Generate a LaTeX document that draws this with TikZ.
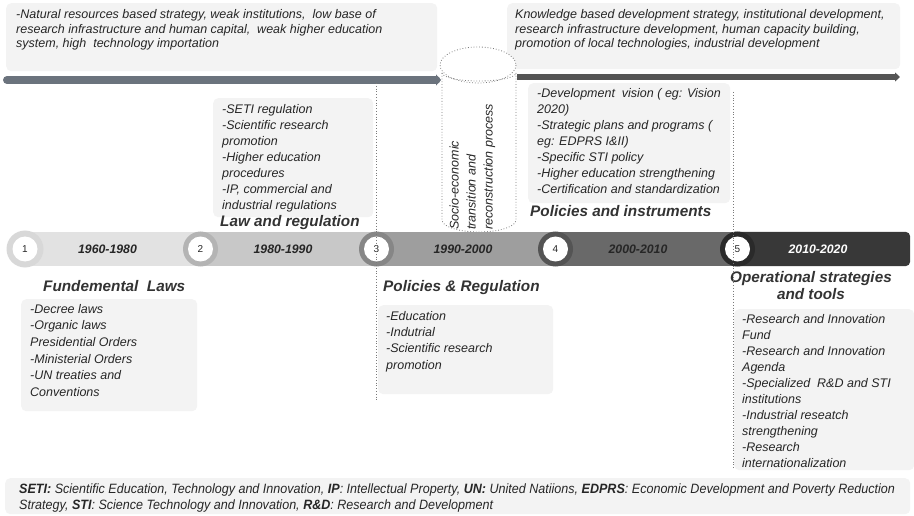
\documentclass[tikz,border=0pt]{standalone}
\usepackage{fontspec}
\setmainfont{Liberation Sans}
\newfontfamily\footfont[FakeStretch=0.93]{Liberation Sans}
\usetikzlibrary{arrows.meta}
\definecolor{panel}{HTML}{F3F3F3}
\definecolor{ink}{HTML}{262626}
\definecolor{head}{HTML}{333333}
\definecolor{guidegray}{HTML}{7A7A7A}
\definecolor{arrowA}{HTML}{6B737D}
\definecolor{arrowB}{HTML}{555555}
\definecolor{bodyA}{HTML}{E2E2E2}\definecolor{ringA}{HTML}{D8D8D8}
\definecolor{bodyB}{HTML}{C8C8C8}\definecolor{ringB}{HTML}{B4B4B4}
\definecolor{bodyC}{HTML}{9E9E9E}\definecolor{ringC}{HTML}{868686}
\definecolor{bodyD}{HTML}{696969}\definecolor{ringD}{HTML}{545454}
\definecolor{bodyE}{HTML}{383838}\definecolor{ringE}{HTML}{2A2A2A}
\begin{document}
\begin{tikzpicture}[x=1pt,y=-1pt,
  panelbox/.style={fill=panel,rounded corners=5,inner sep=0,anchor=north west,draw=none},
  bodytext/.style={anchor=north west,inner sep=0,align=left,text=ink,
    font=\itshape\fontsize{12.5}{16}\selectfont},
  heading/.style={anchor=base west,inner sep=0,text=head,
    font=\bfseries\itshape\fontsize{15.3}{17}\selectfont},
  guide/.style={draw=guidegray,dotted,line width=0.8},
  ringdot/.style={circle,inner sep=0,minimum size=35},
  numdot/.style={circle,fill=white,inner sep=0,minimum size=25,text=ink,
    font=\fontsize{10}{12}\selectfont},
  yearlabel/.style={inner sep=0,font=\bfseries\itshape\fontsize{12.3}{14}\selectfont}]
\useasboundingbox (0,0) rectangle (914,516);

% ---------- top panels and trend arrows ----------
\node[panelbox,minimum width=431,minimum height=68] (ctxold) at (6,3) {};
\node[bodytext,font=\itshape\fontsize{12.5}{14.5}\selectfont] (ctxoldtxt) at (16,8.4)
  {\strut-Natural resources based strategy, weak institutions,\ \ low base of\\
   research infrastructure and human capital,\ \ weak higher education\\
   system, high\ \ technology importation};
\node[panelbox,minimum width=393,minimum height=66] (ctxnew) at (507,3) {};
\node[bodytext,font=\itshape\fontsize{12.5}{14.5}\selectfont] (ctxnewtxt) at (515,8.4)
  {\strut Knowledge based development strategy, institutional development,\\
   research infrastructure development, human capacity building,\\
   promotion of local technologies, industrial development};

\coordinate (arrAfrom) at (7,80);
\coordinate (arrAto) at (441,80);
\coordinate (arrBfrom) at (517,77);
\coordinate (arrBto) at (900,77);
\draw[arrowA,line width=8,line cap=round,-{Triangle[length=5pt,width=11pt]}] (arrAfrom) -- (arrAto);
\draw[arrowB,line width=6.5,-{Triangle[length=5pt,width=9pt]}] (arrBfrom) -- (arrBto);

% ---------- transition cylinder ----------
\draw[guide,fill=white] (442,73) -- (442,220)
  arc[start angle=180,end angle=0,x radius=37,y radius=12] -- (516,73);
\draw[guide,fill=white] (478,65) ellipse[x radius=38,y radius=18];
\draw[guide] (442,73) arc[start angle=180,end angle=0,x radius=37,y radius=8];
\node[bodytext,rotate=90,font=\itshape\fontsize{12.5}{17}\selectfont] (cyltxt) at (446.5,230)
  {\strut Socio-economic\\transition and\\reconstruction process};

% ---------- upper panels ----------
\node[panelbox,minimum width=160,minimum height=119] (lawbox) at (213,98) {};
\node[bodytext] (lawtxt) at (222,101.8)
  {\strut-SETI regulation\\-Scientific research\\promotion\\-Higher education\\
   procedures\\-IP, commercial and\\industrial regulations};
\node[heading] (lawhead) at (220,227) {Law and regulation};

\node[panelbox,minimum width=202,minimum height=120] (polbox) at (528,83) {};
\node[bodytext] (poltxt) at (537,85.8)
  {\strut-Development\ \ vision ( eg: Vision\\2020)\\-Strategic plans and programs (\\
   eg: EDPRS I\&II)\\-Specific STI policy\\-Higher education strengthening\\
   -Certification and standardization};
\node[heading] (polhead) at (530,217) {Policies and instruments};

% ---------- timeline bar ----------
\fill[bodyA] (25,232) rectangle (200.5,266);
\node[ringdot,fill=ringA,minimum size=37] (r1) at (25,249) {};
\node[numdot] (c1) at (25,249) {1};
\node[yearlabel,text=ink] (y1) at (107.5,249) {1960-1980};

\fill[bodyB] (200.5,232) rectangle (376.5,266);
\node[ringdot,fill=ringB] (r2) at (200.5,249) {};
\node[numdot] (c2) at (200.5,249) {2};
\node[yearlabel,text=ink] (y2) at (283,249) {1980-1990};

\fill[bodyC] (376.5,232) rectangle (555.5,266);
\node[ringdot,fill=ringC] (r3) at (376.5,249) {};
\node[numdot] (c3) at (376.5,249) {3};
\node[yearlabel,text=ink] (y3) at (463,249) {1990-2000};

\fill[bodyD] (555.5,232) rectangle (737.5,266);
\node[ringdot,fill=ringD] (r4) at (555.5,249) {};
\node[numdot] (c4) at (555.5,249) {4};
\node[yearlabel,text=ink] (y4) at (638,249) {2000-2010};

\fill[bodyE,rounded corners=4] (730,232) rectangle (910,266);
\node[ringdot,fill=ringE] (r5) at (737.5,249) {};
\node[numdot] (c5) at (737.5,249) {5};
\node[yearlabel,text=white] (y5) at (818,249) {2010-2020};

% ---------- period dividers ----------
\coordinate (divAtop) at (376,83);
\coordinate (divAbot) at (376,402);
\coordinate (divBtop) at (733,92);
\coordinate (divBbot) at (733,468);
\draw[guide] (divAtop) -- (divAbot);

% ---------- lower panels ----------
\node[heading] (fundhead) at (43,291) {Fundemental\ \ Laws};
\node[panelbox,minimum width=176,minimum height=112] (fundbox) at (21,299) {};
\node[bodytext,font=\itshape\fontsize{12.5}{16.6}\selectfont] (fundtxt) at (30,301.4)
  {\strut-Decree laws\\-Organic laws\\Presidential Orders\\-Ministerial Orders\\
   -UN treaties and\\Conventions};

\node[heading] (prhead) at (383,291) {Policies \& Regulation};
\node[panelbox,minimum width=175,minimum height=89] (prbox) at (378,305) {};
\node[bodytext,font=\itshape\fontsize{12.5}{16.4}\selectfont] (prtxt) at (386,308.5)
  {\strut-Education\\-Indutrial\\-Scientific research\\promotion};

\node[anchor=north,inner sep=0,align=center,text=head,
  font=\bfseries\itshape\fontsize{15.3}{17}\selectfont] (ophead) at (811,270.1)
  {\strut Operational strategies\\and tools};
\node[panelbox,minimum width=180,minimum height=161] (opbox) at (734,309) {};
\node[bodytext] (optxt) at (742,311.8)
  {\strut-Research and Innovation\\Fund\\-Research and Innovation\\Agenda\\
   -Specialized\ \ R\&D and STI\\institutions\\-Industrial reseatch\\strengthening\\
   -Research\\internationalization};
\draw[guide] (divBtop) -- (divBbot);

% ---------- abbreviations ----------
\node[panelbox,minimum width=905,minimum height=36] (abbrbox) at (5,478) {};
\node[bodytext,font=\footfont\itshape\fontsize{13.5}{16}\selectfont] (abbrtxt) at (19,481.8)
  {\strut\textbf{SETI:} Scientific Education, Technology and Innovation, \textbf{IP}: Intellectual Property, \textbf{UN:} United Natiions, \textbf{EDPRS}: Economic Development and Poverty Reduction\\
   Strategy, \textbf{STI}: Science Technology and Innovation, \textbf{R\&D}: Research and Development};
\end{tikzpicture}
\end{document}
